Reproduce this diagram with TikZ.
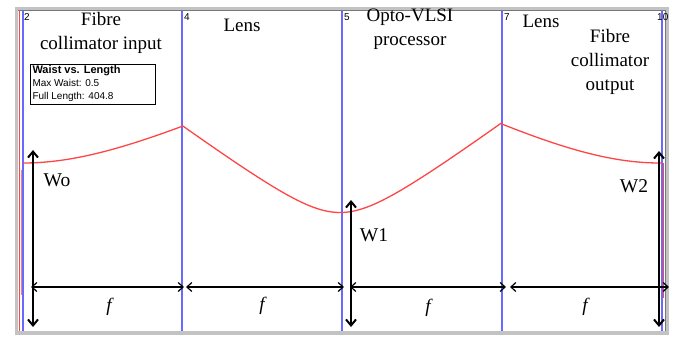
\documentclass[tikz,border=0pt]{standalone}
\usepackage{fontspec}
\setmainfont{Liberation Serif}
\newfontfamily\arialfont{Liberation Sans}
\usetikzlibrary{arrows.meta}
\definecolor{lensblue}{RGB}{105,105,255}
\definecolor{beamred}{RGB}{255,70,70}
\definecolor{framegray}{RGB}{195,195,195}
\definecolor{framedark}{RGB}{120,120,120}
\tikzset{
  lensline/.style={lensblue, line width=1.5pt},
  beam/.style={beamred, line width=1.3pt},
  label/.style={font=\fontsize{19}{24}\selectfont, align=center, inner sep=0pt},
  wlabel/.style={font=\fontsize{19.5}{20}\selectfont, inner sep=0pt},
  flabel/.style={font=\fontsize{19}{20}\selectfont\itshape, inner sep=0pt},
  numlabel/.style={font=\arialfont\fontsize{10}{10}\selectfont, inner sep=0pt, anchor=north west},
  warrow/.style={black, line width=2pt, {Straight Barb[length=6pt,width=10pt]}-{Straight Barb[length=6pt,width=10pt]}},
  farrow/.style={black, line width=1.2pt, {Straight Barb[length=5pt,width=9pt]}-{Straight Barb[length=5pt,width=9pt]}},
}
\begin{document}
\begin{tikzpicture}[x=1pt,y=-1pt]
\useasboundingbox (0,0) rectangle (684,337);
\fill[white] (0,0) rectangle (684,337);
% frame
\draw[framegray, line width=3.5pt] (16.5,8.5) rectangle (667,333);
\draw[framedark, line width=0.8pt] (18,10.5) -- (665,10.5);
\draw[framedark, line width=0.6pt] (665.5,10.5) -- (665.5,331);
% left red edge lines
\draw[beam, line width=1.2pt] (19.5,11) -- (19.5,331);
\draw[beamred!70, line width=1pt] (21,170) -- (21,295);
% lens lines
\coordinate (l2t) at (23,11);   \coordinate (l2b) at (23,331);
\coordinate (l4t) at (182,11);  \coordinate (l4b) at (182,331);
\coordinate (l5t) at (342,11);  \coordinate (l5b) at (342,331);
\coordinate (l7t) at (502,11);  \coordinate (l7b) at (502,331);
\coordinate (l10t) at (662,11); \coordinate (l10b) at (662,331);
\draw[lensline] (l2t) -- (l2b);
\draw[lensline] (l4t) -- (l4b);
\draw[lensline] (l5t) -- (l5b);
\draw[lensline] (l7t) -- (l7b);
\draw[lensline] (l10t) -- (l10b);
% right red edge
\draw[beam, line width=1.2pt] (663.5,163) -- (663.5,298);
% numbers
\node[numlabel] (n2) at (24,13) {2};
\node[numlabel] (n4) at (184,13) {4};
\node[numlabel] (n5) at (344,13) {5};
\node[numlabel] (n7) at (504,13) {7};
\node[numlabel] (n10) at (657,13) {10};
% beam profile
\draw[beam] plot[domain=23:182, samples=60, smooth] (\x, {163 - 57.8*(sqrt(1+((\x-23)/123)^2)-1)});
\draw[beam] plot[domain=182:502, samples=120, smooth] (\x, {212.5 - 33.8*(sqrt(1+((\x-340)/46)^2)-1)});
\draw[beam] plot[domain=502:662, samples=60, smooth] (\x, {163 - 62*(sqrt(1+((\x-660)/123)^2)-1)});
% legend
\node[draw=black, line width=1pt, fill=white, inner sep=2pt, anchor=north west, align=left,
  font=\arialfont\fontsize{10}{13}\selectfont] (legend) at (30,63.5)
  {\textbf{\fontsize{11}{13}\selectfont Waist vs. Length}\\Max Waist: 0.5\\Full Length: 404.8\hspace*{40pt}};
% titles
\node[label] (t1) at (101,33) {Fibre\\collimator input};
\node[label] (t2) at (242,25) {Lens};
\node[label] (t3) at (410,29) {Opto-VLSI\\processor};
\node[label] (t4) at (541,21) {Lens};
\node[label] (t5) at (610,62) {Fibre\\collimator\\output};
% waist arrows
\coordinate (w0t) at (33,150);  \coordinate (w0b) at (33,327);
\coordinate (w1t) at (351,200); \coordinate (w1b) at (351,327);
\coordinate (w2t) at (659,151); \coordinate (w2b) at (659,327);
\draw[warrow] (w0t) -- (w0b);
\draw[warrow] (w1t) -- (w1b);
\draw[warrow] (w2t) -- (w2b);
\node[wlabel] (wo) at (57,180) {Wo};
\node[wlabel] (wone) at (374,235) {W1};
\node[wlabel] (wtwo) at (634,186) {W2};
% focal-length arrows
\coordinate (f1a) at (31,287);  \coordinate (f1b) at (184,287);
\coordinate (f2a) at (186,287); \coordinate (f2b) at (344,287);
\coordinate (f3a) at (350,287); \coordinate (f3b) at (506,287);
\coordinate (f4a) at (510,287); \coordinate (f4b) at (669,287);
\draw[farrow] (f1a) -- (f1b);
\draw[farrow] (f2a) -- (f2b);
\draw[farrow] (f3a) -- (f3b);
\draw[farrow] (f4a) -- (f4b);
\node[flabel] (fa) at (109,307) {f};
\node[flabel] (fb) at (262,306) {f};
\node[flabel] (fc) at (428,308) {f};
\node[flabel] (fd) at (585,307) {f};
\end{tikzpicture}
\end{document}
